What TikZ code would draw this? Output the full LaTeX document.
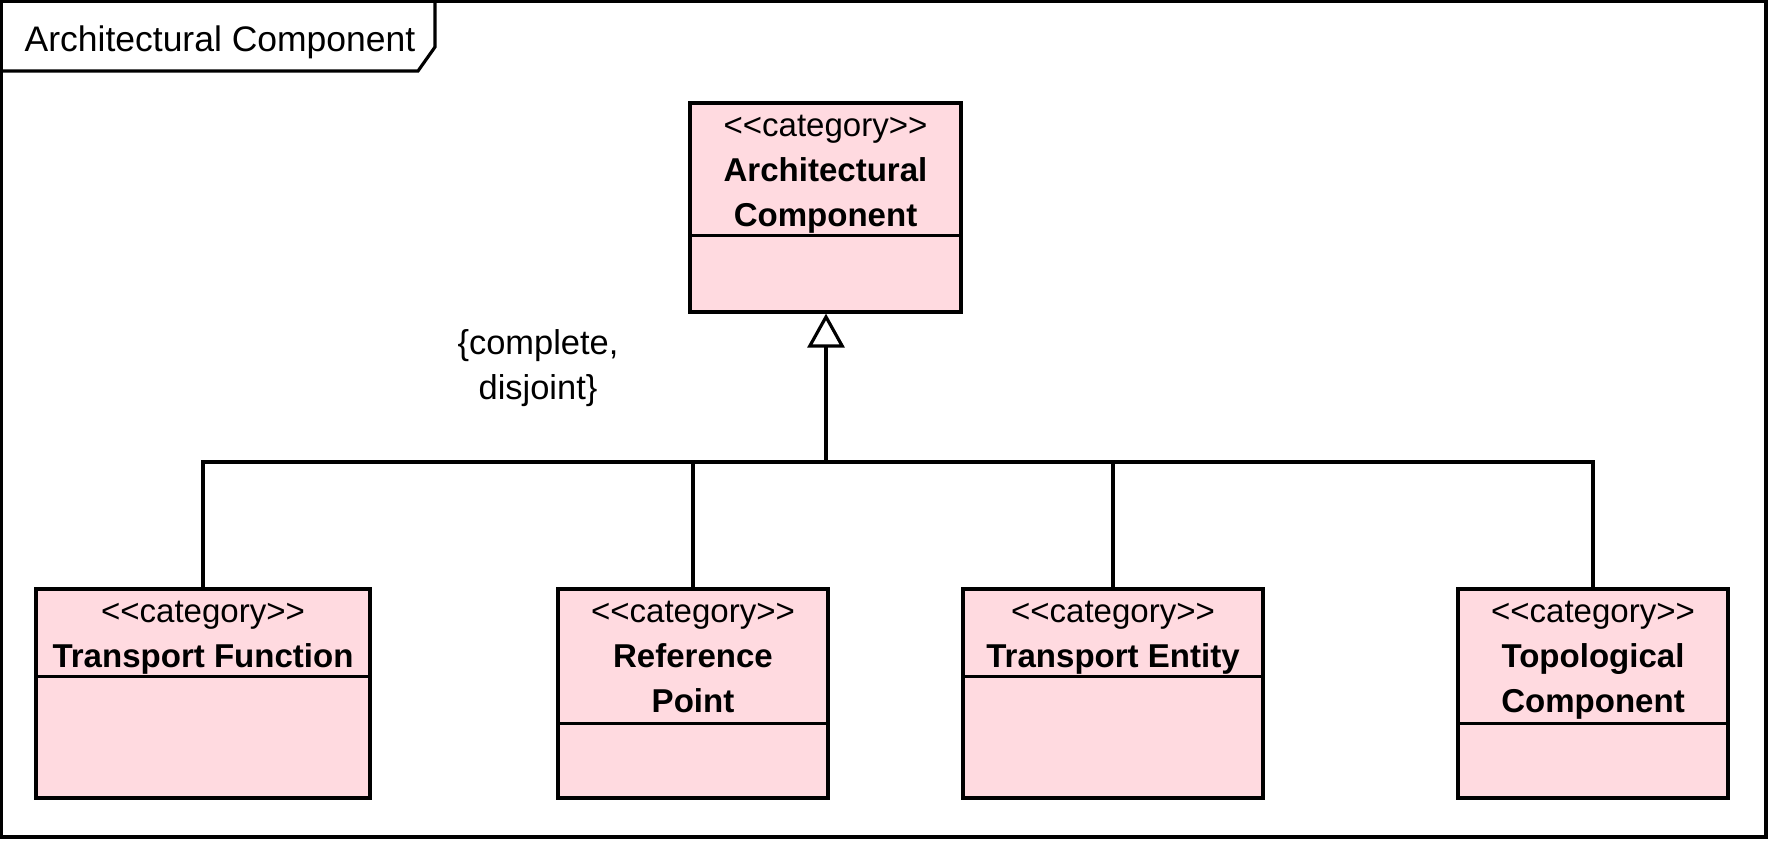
\documentclass[tikz,border=0pt]{standalone}
\usepackage{fontspec}
\setmainfont{Liberation Sans}
\usetikzlibrary{arrows.meta, positioning}

\definecolor{classpink}{RGB}{255,218,224}
\newcommand{\stereo}[1]{<\kern0pt<#1>\kern0pt>}

\tikzset{
  umlline/.style={line width=0.9pt},
  classbox/.style={draw, umlline, fill=classpink, inner sep=0pt, minimum height=2.09cm},
  classname/.style={anchor=north, inner sep=0pt, align=center, font=\fontsize{9.4}{12.7}\selectfont},
}

\begin{document}
\begin{tikzpicture}
  \useasboundingbox (0,0) rectangle (17.70,-8.40);

  % frame and its tab
  \draw[umlline] (0.015,-0.015) rectangle (17.66,-8.37);
  \draw[umlline] (0.015,-0.71) -- (4.18,-0.71) -- (4.35,-0.47) -- (4.35,-0.015);
  \node[anchor=base, inner sep=0pt, font=\fontsize{10.1}{12}\selectfont] (frametitle) at (2.20,-0.52) {Architectural Component};

  % classes
  \node[classbox, minimum width=2.71cm] (ac) at (8.255,-2.075) {};
  \node[classbox, minimum width=3.34cm] (tf) at (2.03,-6.935) {};
  \node[classbox, minimum width=2.70cm] (rp) at (6.93,-6.935) {};
  \node[classbox, minimum width=3.00cm] (te) at (11.13,-6.935) {};
  \node[classbox, minimum width=2.70cm] (tc) at (15.93,-6.935) {};

  \draw[umlline] ([yshift=-1.34cm]ac.north west) -- ([yshift=-1.34cm]ac.north east);
  \draw[umlline] ([yshift=-0.89cm]tf.north west) -- ([yshift=-0.89cm]tf.north east);
  \draw[umlline] ([yshift=-1.36cm]rp.north west) -- ([yshift=-1.36cm]rp.north east);
  \draw[umlline] ([yshift=-0.89cm]te.north west) -- ([yshift=-0.89cm]te.north east);
  \draw[umlline] ([yshift=-1.36cm]tc.north west) -- ([yshift=-1.36cm]tc.north east);

  \node[classname] (ac-name) at ([yshift=-1.0pt]ac.north) {\strut\stereo{category}\\ \textbf{Architectural}\\ \textbf{Component}};
  \node[classname] (tf-name) at ([yshift=-1.0pt]tf.north) {\strut\stereo{category}\\ \textbf{Transport Function}};
  \node[classname] (rp-name) at ([yshift=-1.0pt]rp.north) {\strut\stereo{category}\\ \textbf{Reference}\\ \textbf{Point}};
  \node[classname] (te-name) at ([yshift=-1.0pt]te.north) {\strut\stereo{category}\\ \textbf{Transport Entity}};
  \node[classname] (tc-name) at ([yshift=-1.0pt]tc.north) {\strut\stereo{category}\\ \textbf{Topological}\\ \textbf{Component}};

  % generalization set
  \coordinate (bus) at (8.26,-4.62);
  \draw[umlline] (tf.north) |- (bus);
  \draw[umlline] (rp.north) |- (bus);
  \draw[umlline] (te.north) |- (bus);
  \draw[umlline] (tc.north) |- (bus);
  \draw[umlline, -{Triangle[open, length=0.34cm, width=0.37cm]}] (bus) -- (bus |- ac.south);

  \node[anchor=north, inner sep=0pt, align=center, font=\fontsize{9.8}{13}\selectfont] (gsconstraint) at (5.38,-3.215) {\strut\{complete,\\ disjoint\}};
\end{tikzpicture}
\end{document}
